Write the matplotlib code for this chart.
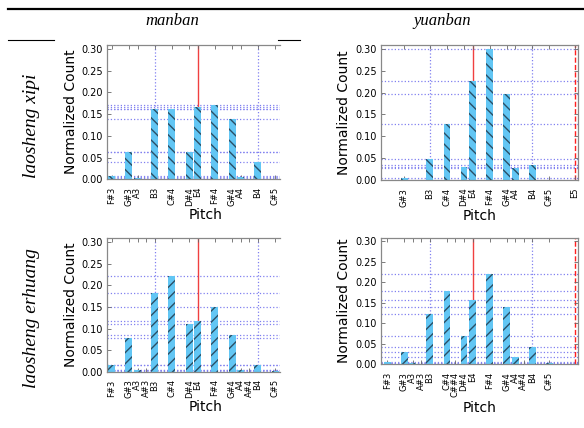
import matplotlib
matplotlib.use("Agg")
import matplotlib.pyplot as plt
from matplotlib.lines import Line2D

# pitch names and midi numbers for each panel
xipi_man_names = ["F#3", "G#3", "A3", "B3", "C#4", "D#4", "E4", "F#4", "G#4", "A4", "B4", "C#5"]
xipi_man_midi = [54, 56, 57, 59, 61, 63, 64, 66, 68, 69, 71, 73]
xipi_man_vals = [0.007, 0.063, 0.003, 0.161, 0.161, 0.063, 0.167, 0.170, 0.139, 0.006, 0.039, 0.0]

xipi_yuan_names = ["G#3", "B3", "C#4", "D#4", "E4", "F#4", "G#4", "A4", "B4", "C#5", "E5"]
xipi_yuan_midi = [56, 59, 61, 63, 64, 66, 68, 69, 71, 73, 76]
xipi_yuan_vals = [0.004, 0.048, 0.129, 0.029, 0.227, 0.300, 0.196, 0.027, 0.035, 0.001, 0.0]

erh_man_names = ["F#3", "G#3", "A3", "A#3", "B3", "C#4", "D#4", "E4", "F#4", "G#4", "A4", "A#4", "B4", "C#5"]
erh_man_midi = [54, 56, 57, 58, 59, 61, 63, 64, 66, 68, 69, 70, 71, 73]
erh_man_vals = [0.015, 0.079, 0.003, 0.0, 0.183, 0.221, 0.111, 0.117, 0.150, 0.086, 0.003, 0.0, 0.015, 0.001]

erh_yuan_names = ["F#3", "G#3", "A3", "A#3", "B3", "C#4", "C##4", "D#4", "E4", "F#4", "G#4", "A4", "A#4", "B4", "C#5"]
erh_yuan_midi = [54, 56, 57, 58, 59, 61, 62, 63, 64, 66, 68, 69, 70, 71, 73]
erh_yuan_vals = [0.0065, 0.031, 0.002, 0.0, 0.123, 0.179, 0.0, 0.069, 0.157, 0.220, 0.139, 0.019, 0.0, 0.042, 0.002]

tonic = 64
octave_above = 76
grid_x = [59, 71]

W, H = 584, 428
fig = plt.figure(figsize=(W / 100, H / 100), dpi=100)


def px_axes(left, top, right, bottom):
    return fig.add_axes([left / W, 1 - bottom / H, (right - left) / W, (bottom - top) / H])


def panel(ax, names, midi, vals, hatch, xlim, cropped, label_y):
    ax.set_xlim(*xlim)
    ax.set_ylim(0, 0.309)
    ax.axvline(tonic, color="#f04040", lw=1.0, zorder=1)
    if not cropped:
        ax.axvline(octave_above, color="#ff2020", lw=1.0, ls="--", zorder=1)
    for g in grid_x:
        ax.axvline(g, color="#8080f0", lw=0.9, ls=":", zorder=0)
    for v in vals:
        if v > 0:
            ax.axhline(v, color="#8080f0", lw=0.9, ls=":", zorder=0)
    ax.bar(midi, vals, width=0.8, color="#62c6f4", edgecolor="#2a4f66",
           linewidth=0, hatch=hatch, zorder=2)
    ax.set_xticks(midi)
    ax.set_xticklabels(names, rotation=90, fontsize=6)
    ax.set_yticks([0, 0.05, 0.10, 0.15, 0.20, 0.25, 0.30])
    ax.set_yticklabels(["0.00", "0.05", "0.10", "0.15", "0.20", "0.25", "0.30"], fontsize=7)
    ax.tick_params(direction="in", length=3, top=True, right=not cropped,
                   color="#666666", width=0.6)
    ax.tick_params(axis="x", pad=5.5)
    ax.tick_params(axis="y", pad=3)
    for s in ax.spines.values():
        s.set_color("#888888")
        s.set_linewidth(0.9)
    if cropped:
        ax.spines["right"].set_visible(False)
    ax.set_ylabel("Normalized Count", fontsize=10)
    ax.set_xlabel("Pitch", fontsize=10)
    xw = 196.5 / (ax.get_position().width * W)
    ax.xaxis.set_label_coords(0.5 * xw, label_y)
    ax.xaxis.label.set_va("top")


ax1 = px_axes(107, 45, 280, 179.3)
panel(ax1, xipi_man_names, xipi_man_midi, xipi_man_vals, "\\\\\\",
      (53.45, 53.45 + 173 / 8.6), True, -0.215)
ax1.yaxis.set_label_coords(-0.17, 0.5)

ax2 = px_axes(381, 45, 577.7, 180)
panel(ax2, xipi_yuan_names, xipi_yuan_midi, xipi_yuan_vals, "\\\\\\",
      (53.27, 76.33), False, -0.215)
ax2.yaxis.set_label_coords(-0.15, 0.5)

ax3 = px_axes(107, 238.3, 280, 371.7)
panel(ax3, erh_man_names, erh_man_midi, erh_man_vals, "///",
      (53.45, 53.45 + 173 / 8.6), True, -0.21)
ax3.yaxis.set_label_coords(-0.17, 0.5)

ax4 = px_axes(381, 237.7, 577.7, 364.3)
panel(ax4, erh_yuan_names, erh_yuan_midi, erh_yuan_vals, "///",
      (53.27, 76.33), False, -0.29)
ax4.yaxis.set_label_coords(-0.15, 0.5)

# table decoration
fig.add_artist(Line2D([8 / W, 1], [1 - 8.5 / H, 1 - 8.5 / H], color="black", lw=1.6))
fig.add_artist(Line2D([8 / W, 54 / W], [1 - 40 / H, 1 - 40 / H], color="black", lw=0.8))
fig.add_artist(Line2D([278 / W, 300 / W], [1 - 40 / H, 1 - 40 / H], color="black", lw=0.8))

serif = dict(family="Liberation Serif", style="italic")
fig.text(172 / W, 1 - 21 / H, "manban", ha="center", va="center", fontsize=12, **serif)
fig.text(442 / W, 1 - 21 / H, "yuanban", ha="center", va="center", fontsize=12, **serif)
fig.text(31 / W, 1 - 126 / H, "laosheng xipi", ha="center", va="center",
         rotation=90, fontsize=14, **serif)
fig.text(31 / W, 1 - 318 / H, "laosheng erhuang", ha="center", va="center",
         rotation=90, fontsize=14, **serif)

fig.savefig("out.png", dpi=100)
